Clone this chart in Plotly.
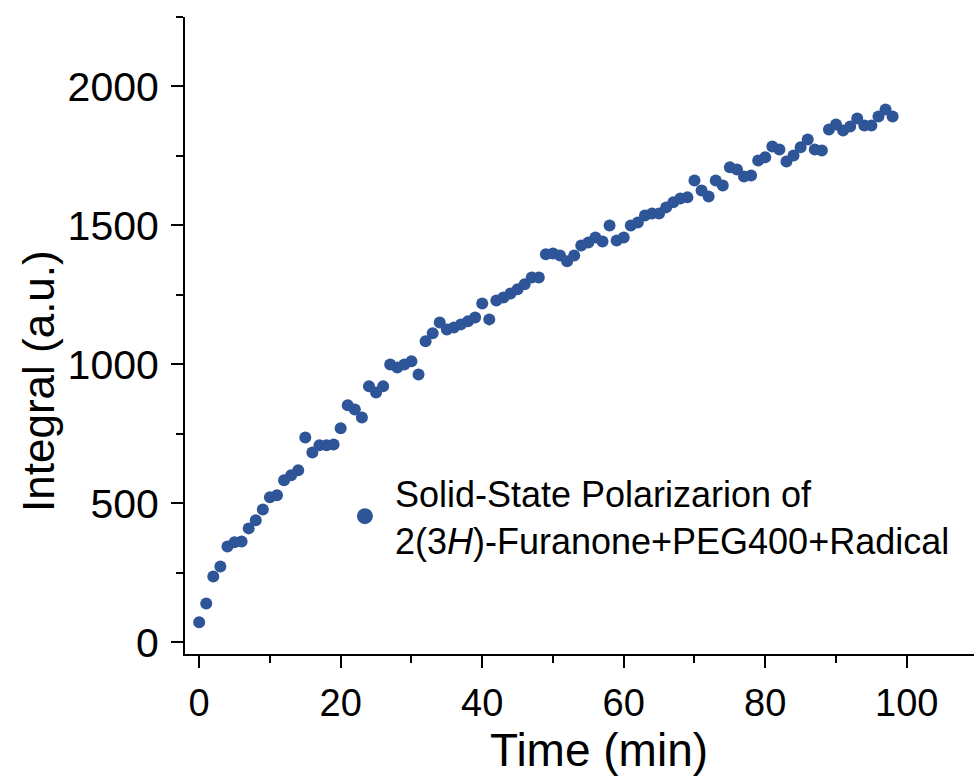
import plotly.graph_objects as go

time_min = list(range(0, 99))
integral = [
    72, 140, 237, 273, 345, 360, 363, 410, 439, 478,
    522, 529, 583, 601, 619, 737, 683, 709, 709, 712,
    770, 853, 838, 809, 921, 899, 921, 1000, 989, 1000,
    1011, 964, 1083, 1112, 1151, 1126, 1133, 1144, 1155, 1169,
    1219, 1162, 1230, 1241, 1255, 1270, 1288, 1313, 1313, 1396,
    1399, 1392, 1371, 1392, 1428, 1439, 1457, 1442, 1500, 1446,
    1457, 1500, 1511, 1536, 1543, 1543, 1565, 1583, 1597, 1601,
    1662, 1626, 1604, 1662, 1644, 1709, 1701, 1676, 1680, 1734,
    1745, 1784, 1773, 1730, 1752, 1781, 1809, 1773, 1770, 1845,
    1863, 1842, 1856, 1885, 1860, 1860, 1892, 1917, 1892,
]
series_name = "Solid-State Polarizarion of<br>2(3<i>H</i>)-Furanone+PEG400+Radical"
x_title = "Time (min)"
y_title = "Integral (a.u.)"
x_ticks = [0, 20, 40, 60, 80, 100]
y_ticks = [0, 500, 1000, 1500, 2000]

color = "#2E5597"

fig = go.Figure()
fig.add_trace(go.Scatter(
    x=time_min, y=integral, mode="markers", name=series_name,
    marker=dict(color=color, size=12, line=dict(width=0)),
    showlegend=False, legendgroup="s",
))
# legend entry (larger symbol as in the reference legend)
fig.add_trace(go.Scatter(
    x=[None], y=[None], mode="markers", name=series_name,
    marker=dict(color=color, size=20, line=dict(width=0)),
    showlegend=True, legendgroup="s",
))

fig.update_layout(
    width=974, height=776,
    margin=dict(l=185, r=0, t=17, b=122),
    plot_bgcolor="white", paper_bgcolor="white",
    font=dict(family="Liberation Sans, Arial", color="black"),
    showlegend=True,
    legend=dict(
        x=0.19, y=0.30, xanchor="left", yanchor="top",
        font=dict(size=36, family="Liberation Sans, Arial"),
        itemsizing="trace", itemwidth=50, bgcolor="rgba(0,0,0,0)",
        tracegroupgap=0,
    ),
    annotations=[
        dict(text=x_title, xref="paper", yref="paper", x=0.525, y=-0.151,
             xanchor="center", yanchor="middle", showarrow=False,
             font=dict(size=46)),
        dict(text=y_title, xref="paper", yref="paper", x=-0.186, y=0.429,
             xanchor="center", yanchor="middle", showarrow=False, textangle=-90,
             font=dict(size=44)),
    ],
)
fig.update_xaxes(
    range=[-2, 109.5], tickvals=x_ticks, ticktext=[str(v) for v in x_ticks],
    showgrid=False, zeroline=False, showline=True, linecolor="black", linewidth=2,
    ticks="outside", ticklen=12, tickwidth=1.5, tickcolor="black",
    minor=dict(dtick=10, tick0=0, ticks="outside", ticklen=7, tickwidth=1.5, tickcolor="black"),
    tickfont=dict(size=38), ticklabelstandoff=2,
)
fig.update_yaxes(
    range=[-42, 2250], tickvals=y_ticks, ticktext=[str(v) for v in y_ticks],
    showgrid=False, zeroline=False, showline=True, linecolor="black", linewidth=2,
    ticks="outside", ticklen=12, tickwidth=1.5, tickcolor="black",
    minor=dict(dtick=250, tick0=0, ticks="outside", ticklen=7, tickwidth=1.5, tickcolor="black"),
    tickfont=dict(size=41), ticklabelstandoff=4,
)

fig.write_html("out.html")
